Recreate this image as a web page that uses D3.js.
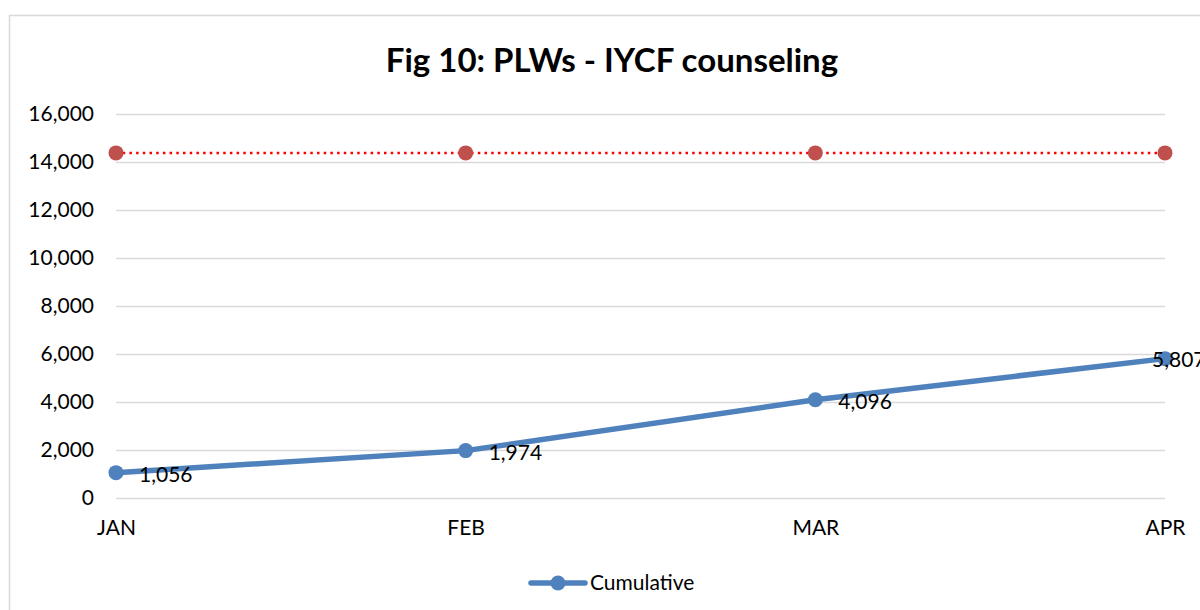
<!DOCTYPE html>
<html>
<head>
<meta charset="utf-8">
<script src="https://cdn.jsdelivr.net/npm/d3@7"></script>
<style>
  body { margin: 0; background: #fff; }
  svg { display: block; font-family: Lato, "Open Sans", sans-serif; }
</style>
</head>
<body>
<div id="chart"></div>
<script>
// chart data
var months = ['JAN', 'FEB', 'MAR', 'APR'];
var cumulative = [1056, 1974, 4096, 5807];
var target = [14380, 14380, 14380, 14380];
var yTicks = [0, 2000, 4000, 6000, 8000, 10000, 12000, 14000, 16000];

var svgWidth = 1200, svgHeight = 610;
var margin = {top: 114, right: 35, bottom: 112, left: 116};
var chartW = svgWidth - margin.left - margin.right;
var chartH = svgHeight - margin.top - margin.bottom;

var svg = d3.select('#chart').append('svg')
    .attr('width', svgWidth)
    .attr('height', svgHeight);

// outer chart border
svg.append('rect')
    .attr('x', 9.5).attr('y', 15.5)
    .attr('width', 1300).attr('height', 700)
    .attr('fill', 'none')
    .attr('stroke', '#d9d9d9')
    .attr('stroke-width', 1.5);

svg.append('text')
    .attr('x', 612).attr('y', 72)
    .attr('text-anchor', 'middle')
    .attr('font-size', '33px')
    .attr('font-weight', 'bold')
    .attr('fill', '#000')
    .text('Fig 10: PLWs - IYCF counseling');

var g = svg.append('g')
    .attr('transform', `translate(${margin.left}, ${margin.top})`);

var xScale = d3.scalePoint()
    .domain(months)
    .range([0, chartW]);

var yScale = d3.scaleLinear()
    .domain([0, 16000])
    .range([chartH, 0]);

// gridlines + y labels
var yAxis = g.append('g')
    .call(d3.axisLeft(yScale)
        .tickValues(yTicks)
        .tickSize(-chartW)
        .tickPadding(22)
        .tickFormat(d3.format(',')));
yAxis.select('.domain').remove();
yAxis.selectAll('.tick line')
    .attr('stroke', '#d9d9d9')
    .attr('stroke-width', 1.5);
yAxis.selectAll('.tick text')
    .attr('font-size', '21px')
    .attr('fill', '#000')
    .attr('font-family', 'Lato, sans-serif');

// x labels
var xAxis = g.append('g')
    .attr('transform', `translate(0, ${chartH})`)
    .call(d3.axisBottom(xScale).tickSize(0).tickPadding(22));
xAxis.select('.domain').remove();
xAxis.selectAll('.tick text')
    .attr('font-size', '21px')
    .attr('fill', '#000')
    .attr('font-family', 'Lato, sans-serif');

var line = d3.line()
    .x((d, i) => xScale(months[i]))
    .y(d => yScale(d));

// target series (dotted red)
g.append('path')
    .datum(target)
    .attr('d', line)
    .attr('fill', 'none')
    .attr('stroke', '#ff0000')
    .attr('stroke-width', 2.5)
    .attr('stroke-dasharray', '2.5,4.2');

g.selectAll('.target-pt')
    .data(target)
    .enter()
    .append('circle')
    .attr('class', 'target-pt')
    .attr('cx', (d, i) => xScale(months[i]))
    .attr('cy', d => yScale(d))
    .attr('r', 7.5)
    .attr('fill', '#c0504d');

// cumulative series
g.append('path')
    .datum(cumulative)
    .attr('d', line)
    .attr('fill', 'none')
    .attr('stroke', '#4f81bd')
    .attr('stroke-width', 5.5)
    .attr('stroke-linejoin', 'round');

g.selectAll('.cum-pt')
    .data(cumulative)
    .enter()
    .append('circle')
    .attr('class', 'cum-pt')
    .attr('cx', (d, i) => xScale(months[i]))
    .attr('cy', d => yScale(d))
    .attr('r', 7.5)
    .attr('fill', '#4f81bd');

// last label gets pushed back onto the point, like the original
g.selectAll('.cum-label')
    .data(cumulative)
    .enter()
    .append('text')
    .attr('class', 'cum-label')
    .attr('x', (d, i) => xScale(months[i]) + (i === months.length - 1 ? -13 : 23))
    .attr('y', (d, i) => yScale(d) + (i === months.length - 1 ? 8 : 9))
    .attr('font-size', '21px')
    .attr('fill', '#000')
    .text(d => d3.format(',')(d));

// legend
var legend = svg.append('g')
    .attr('transform', 'translate(531, 583)');
legend.append('line')
    .attr('x1', 0).attr('x2', 54)
    .attr('stroke', '#4f81bd')
    .attr('stroke-width', 5.5)
    .attr('stroke-linecap', 'round');
legend.append('circle')
    .attr('cx', 27).attr('r', 7.5)
    .attr('fill', '#4f81bd');
legend.append('text')
    .attr('x', 59).attr('y', 7)
    .attr('font-size', '21px')
    .attr('fill', '#000')
    .text('Cumulative');
</script>
</body>
</html>
